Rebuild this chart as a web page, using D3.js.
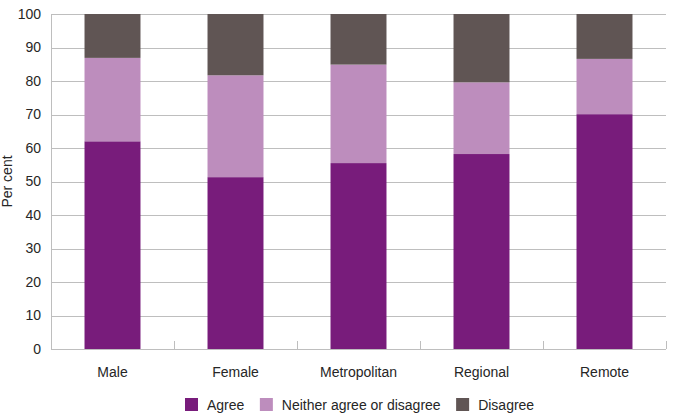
<!DOCTYPE html>
<html>
<head>
<meta charset="utf-8">
<script src="https://cdn.jsdelivr.net/npm/d3@7/dist/d3.min.js"></script>
<style>
  html, body { margin: 0; padding: 0; background: #fff; }
  svg { display: block; font-family: "Liberation Sans", Arial, sans-serif; }
</style>
</head>
<body>
<svg id="chart" width="675" height="419"></svg>
<script>
const categories = ["Male", "Female", "Metropolitan", "Regional", "Remote"];
const seriesNames = ["Agree", "Neither agree or disagree", "Disagree"];
const agree    = [62.0, 51.3, 55.5, 58.2, 70.1];
const neither  = [24.9, 30.4, 29.4, 21.4, 16.5];
const disagree = [13.1, 18.3, 15.1, 20.4, 13.4];
const yTicks = [0, 10, 20, 30, 40, 50, 60, 70, 80, 90, 100];
const colors = ["#781c7b", "#bd8dbd", "#605554"];

(function () {
const svg = d3.select("#chart");
const mLeft = 51, mRight = 666, mTop = 14, mBottom = 349;
const gridColor = "#bebebe";
const textColor = "#262626";

const x = d3.scaleBand().domain(categories).range([mLeft, mRight])
  .paddingInner(0.545).paddingOuter(0.2725);
const y = d3.scaleLinear().domain([0, 100]).range([mBottom, mTop]);

// gridlines + y labels
const yAxis = svg.append("g").attr("transform", `translate(${mLeft},0)`)
  .call(d3.axisLeft(y).tickValues(yTicks).tickSize(-(mRight - mLeft)).tickPadding(10));
yAxis.select(".domain").remove();
yAxis.selectAll(".tick line").attr("stroke", gridColor).attr("shape-rendering", "crispEdges");
yAxis.selectAll(".tick text").attr("fill", textColor).style("font-size", "14px")
  .style("font-family", '"Liberation Sans", Arial, sans-serif');

// y axis vertical line
svg.append("line").attr("x1", mLeft).attr("x2", mLeft).attr("y1", y(100)).attr("y2", y(0))
  .attr("stroke", gridColor).attr("shape-rendering", "crispEdges");

// stacked data
const rows = categories.map((c, i) => ({ cat: c, Agree: agree[i], "Neither agree or disagree": neither[i], Disagree: disagree[i] }));
const stacked = d3.stack().keys(seriesNames)(rows);

svg.append("g").selectAll("g").data(stacked).join("g")
  .attr("fill", (d, i) => colors[i])
  .selectAll("rect").data(d => d).join("rect")
  .attr("x", d => x(d.data.cat))
  .attr("width", x.bandwidth())
  .attr("y", d => y(d[1]))
  .attr("height", d => y(d[0]) - y(d[1]));

// x axis
const xAxis = svg.append("g").attr("transform", `translate(0,${mBottom})`)
  .call(d3.axisBottom(x).tickSize(0).tickPadding(18));
xAxis.select(".domain").attr("stroke", gridColor).attr("d", `M${mLeft},0.5H${mRight}`);
xAxis.selectAll(".tick text").attr("fill", textColor).style("font-size", "14px")
  .style("font-family", '"Liberation Sans", Arial, sans-serif');

// category boundary ticks (upward)
const boundaries = categories.map(c => x(c) + x.bandwidth() / 2 + x.step() / 2);
svg.append("g").selectAll("line").data(boundaries).join("line")
  .attr("x1", d => Math.round(d) + 0.5).attr("x2", d => Math.round(d) + 0.5)
  .attr("y1", mBottom - 8).attr("y2", mBottom)
  .attr("stroke", gridColor);

// y title
svg.append("text")
  .attr("transform", `translate(12,${(mTop + mBottom) / 2}) rotate(-90)`)
  .attr("text-anchor", "middle")
  .attr("fill", textColor)
  .style("font-size", "14px")
  .text("Per cent");

// legend
const legend = svg.append("g");
let lx = 0;
seriesNames.forEach((name, i) => {
  const g = legend.append("g").attr("transform", `translate(${lx},0)`);
  g.append("rect").attr("x", 0).attr("y", 398).attr("width", 13).attr("height", 13).attr("fill", colors[i]);
  const t = g.append("text").attr("x", 22).attr("y", 410).attr("fill", textColor)
    .style("font-size", "14px").text(name);
  const w = t.node().getComputedTextLength();
  lx += 22 + w + 15.5;
});
const totalW = lx - 15.5;
legend.attr("transform", `translate(${Math.round((mLeft + mRight) / 2 + 1.5 - totalW / 2)},0)`);
})();
</script>
</body>
</html>
